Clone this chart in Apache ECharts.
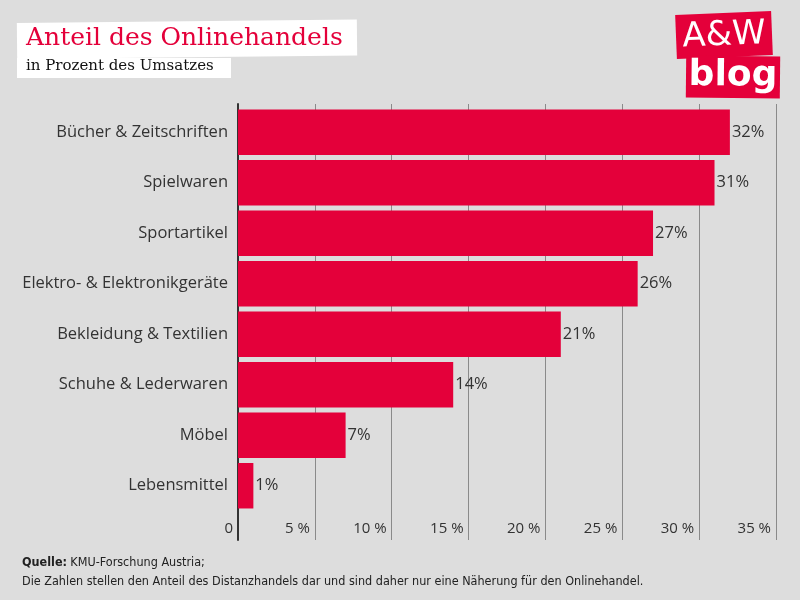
<!DOCTYPE html>
<html><head><meta charset="utf-8">
<script src="https://cdn.jsdelivr.net/npm/echarts@6/dist/echarts.min.js"></script>
<style>html,body{margin:0;padding:0;background:#dddddd}#c{width:800px;height:600px}</style>
</head><body><div id="c"></div>
<script>
const categories = ['Bücher & Zeitschriften','Spielwaren','Sportartikel','Elektro- & Elektronikgeräte','Bekleidung & Textilien','Schuhe & Lederwaren','Möbel','Lebensmittel'];
const values = [32,31,27,26,21,14,7,1];
const tickValues = [0,5,10,15,20,25,30,35];

const RED = '#e4003a';
const chart = echarts.init(document.getElementById('c'));
chart.setOption({
  backgroundColor: '#dddddd',
  animation: false,
  grid: [
    {left: 238, right: 24, top: 104, bottom: 60},
    {left: 238, right: 24, top: 107, bottom: 89}
  ],
  xAxis: [
    {gridIndex: 0, type: 'value', min: 0, max: 35, interval: 5,
     axisLine: {show: false}, axisTick: {show: false},
     splitLine: {show: true, lineStyle: {color: '#8a8a8a', width: 1}},
     axisLabel: {inside: true, margin: 4, verticalAlign: 'bottom', align: 'right', padding: [0, 5, 0, 0],
       color: '#333', fontSize: 15, fontFamily: 'Open Sans',
       formatter: v => v === 0 ? '0' : v + ' %'}},
    {gridIndex: 1, type: 'value', min: 0, max: 35, interval: 5, show: false}
  ],
  yAxis: [
    {gridIndex: 0, type: 'value', min: 0, max: 1, axisLabel: {show: false}, splitLine: {show: false},
     axisTick: {show: false}, axisLine: {show: true, lineStyle: {color: '#333', width: 2}}},
    {gridIndex: 1, type: 'category', data: categories, inverse: true,
     axisLine: {show: false}, axisTick: {show: false},
     axisLabel: {color: '#333', fontSize: 16.5, fontFamily: 'Open Sans', margin: 10}}
  ],
  series: [{
    type: 'bar', xAxisIndex: 1, yAxisIndex: 1, data: values,
    barCategoryGap: '10%',
    itemStyle: {color: RED},
    label: {show: true, position: 'right', distance: 2, formatter: '{c}%', color: '#333', fontSize: 16.5, fontFamily: 'Open Sans'}
  }],
  graphic: [
    {type: 'rect', shape: {x: 17, y: 23, width: 340, height: 36}, rotation: 0.01, originX: 17, originY: 40, style: {fill: '#fff'}},
    {type: 'rect', shape: {x: 17, y: 58, width: 214, height: 20}, style: {fill: '#fff'}},
    {type: 'text', left: 26, top: 26, style: {text: 'Anteil des Onlinehandels', fill: RED, font: '25px "DejaVu Serif"'}},
    {type: 'text', left: 26, top: 59, style: {text: 'in Prozent des Umsatzes', fill: '#111', font: '15px "DejaVu Serif"'}},
    {type: 'group', x: 724, y: 35, rotation: 0.04, children: [
      {type: 'rect', shape: {x: -48, y: -22, width: 96, height: 44}, style: {fill: RED}},
      {type: 'text', x: 0, y: 1, style: {text: 'A&W', fill: '#fff', font: '34px "DejaVu Sans"', align: 'center', verticalAlign: 'middle'}}
    ]},
    {type: 'group', x: 733, y: 77, rotation: -0.01, children: [
      {type: 'rect', shape: {x: -47, y: -21, width: 94, height: 42}, style: {fill: RED}},
      {type: 'text', x: 0, y: -1, style: {text: 'blog', fill: '#fff', font: 'bold 36px "DejaVu Sans"', align: 'center', verticalAlign: 'middle'}}
    ]},
    {type: 'text', left: 22, top: 556, style: {rich: {b: {fontWeight: 'bold', fontSize: 12.5, fontFamily: 'DejaVu Sans Condensed', fill: '#222'}, n: {fontSize: 12.5, fontFamily: 'DejaVu Sans Condensed', fill: '#222'}}, text: '{b|Quelle:} {n|KMU-Forschung Austria;}'}},
    {type: 'text', left: 22, top: 575, style: {text: 'Die Zahlen stellen den Anteil des Distanzhandels dar und sind daher nur eine Näherung für den Onlinehandel.', fill: '#222', font: '12.5px "DejaVu Sans Condensed"'}}
  ]
});
</script></body></html>
